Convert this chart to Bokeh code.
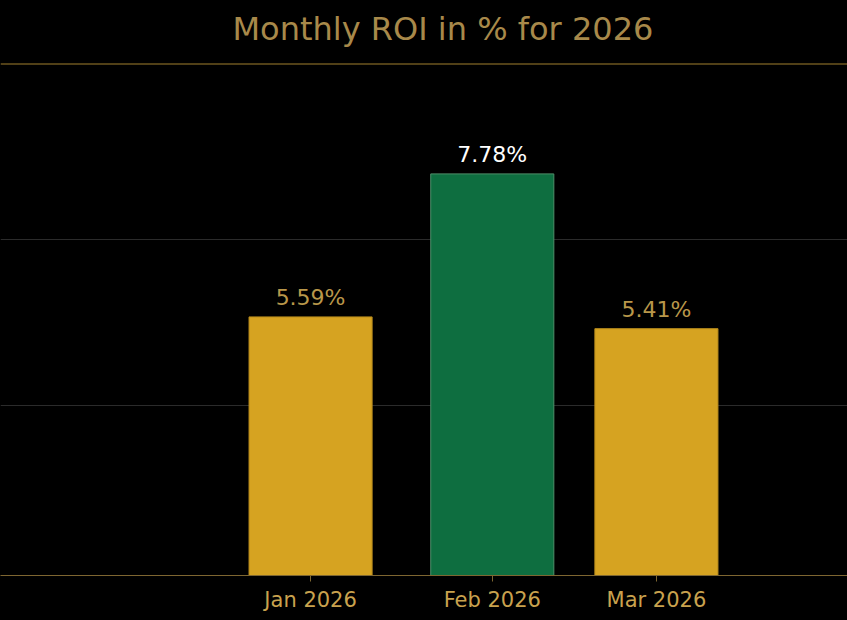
from datetime import datetime, timedelta

from bokeh.plotting import figure
from bokeh.models import (ColumnDataSource, Range1d, FixedTicker, DatetimeTickFormatter,
                          LabelSet, Label, Span)
from bokeh.core.properties import value
from bokeh.embed import file_html
from bokeh.resources import INLINE

# ---- data ----
title_text = "Monthly ROI in % for 2026"
months = ["2026-01-01", "2026-02-01", "2026-03-01"]
roi_pct = [5.59, 7.78, 5.41]
highlight = [False, True, False]   # best month highlighted

# ---- styles ----
GOLD_BAR = "#D6A321"
GREEN_BAR = "#0E6E40"
GOLD_TEXT = "#B9974A"
TITLE_COLOR = "#A8894A"
AXIS_GOLD = "#7E6631"
LINE_GOLD = "#A2802F"

dates = [datetime.strptime(m, "%Y-%m-%d") for m in months]
labels = [f"{v:.2f}%" for v in roi_pct]
fill = [GREEN_BAR if h else GOLD_BAR for h in highlight]
outline = ["#4F8F6A" if h else "#B88C1C" for h in highlight]
label_color = ["#FFFFFF" if h else GOLD_TEXT for h in highlight]

src = ColumnDataSource(dict(x=dates, top=roi_pct, label=labels, fill=fill,
                            outline=outline, label_color=label_color))

bar_width_ms = 21 * 24 * 3600 * 1000

# layout constants (pixels)
W, H = 847, 620
FRAME_H = 575            # frame from top of page down to the x axis
RULE_Y = 63.5            # rule line under the title, from top
TITLE_Y = 28             # title position, from top
Y0 = 1.63                # value at the x axis
PX_PER_UNIT = 65.3

x_start = dates[0] - timedelta(days=52.9)
x_end = dates[-1] + timedelta(days=32.6)
y_range = Range1d(Y0, Y0 + FRAME_H / PX_PER_UNIT)

p = figure(width=W, height=H, x_axis_type="datetime",
           x_range=Range1d(x_start, x_end), y_range=y_range,
           output_backend="svg", toolbar_location=None,
           min_border_left=0, min_border_right=0, min_border_top=0,
           min_border_bottom=H - FRAME_H)

p.background_fill_color = "black"
p.border_fill_color = "black"
p.outline_line_color = None

p.vbar(x="x", top="top", bottom=0, width=bar_width_ms, source=src,
       fill_color="fill", line_color="outline", line_width=1)

p.add_layout(LabelSet(x="x", y="top", text="label", source=src, text_align="center",
                      text_baseline="alphabetic", y_offset=12,
                      text_font=value("DejaVu Sans"), text_font_size=value("22px"),
                      text_color="label_color"))

# x axis
p.xaxis.ticker = FixedTicker(ticks=[d.timestamp() * 1000 for d in dates])
p.xaxis.formatter = DatetimeTickFormatter(days="%b %Y", months="%b %Y", years="%b %Y")
p.xaxis.axis_line_color = AXIS_GOLD
p.xaxis.major_tick_line_color = AXIS_GOLD
p.xaxis.major_tick_out = 6
p.xaxis.major_tick_in = 0
p.xaxis.minor_tick_line_color = None
p.xaxis.major_label_text_color = "#C9A24E"
p.xaxis.major_label_text_font = "DejaVu Sans"
p.xaxis.major_label_text_font_size = "21px"
p.xaxis.major_label_standoff = 6

# y axis hidden, grid only
p.yaxis.visible = False
p.xgrid.grid_line_color = None
p.ygrid.ticker = FixedTicker(ticks=[4.23, 6.78])
p.ygrid.grid_line_color = "#2B2B2B"
p.ygrid.grid_line_width = 1

# rule line under the title
p.add_layout(Span(location=Y0 + (FRAME_H - RULE_Y) / PX_PER_UNIT, dimension="width",
                  line_color=LINE_GOLD, line_width=1))

# title (screen units measured from the frame's bottom-left corner)
p.add_layout(Label(x=232, y=FRAME_H - TITLE_Y, x_units="screen", y_units="screen",
                   text=title_text, text_font="DejaVu Sans", text_font_size="32px",
                   text_color=TITLE_COLOR, text_align="left", text_baseline="alphabetic"))

html = file_html(p, INLINE, title="Monthly ROI")
html = html.replace("<head>", "<head><style>html,body{margin:0;background:#000;}</style>", 1)
open("out.html", "w").write(html)
